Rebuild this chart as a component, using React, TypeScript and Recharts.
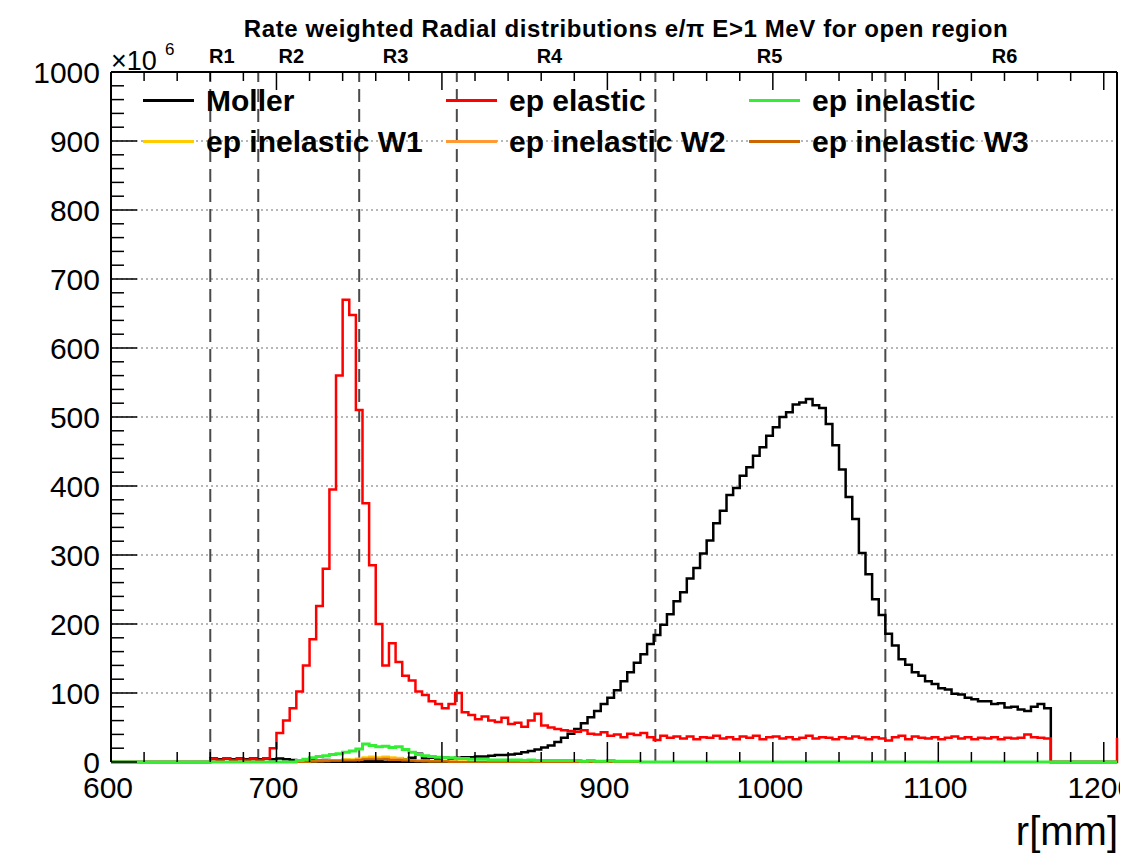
import React from "react";
import { LineChart, Line, XAxis, YAxis, ReferenceLine, ReferenceDot, Legend } from "recharts";

const FONT = "'Liberation Sans', Arial, Helvetica, sans-serif";

// ---- histogram binning (bin low edges in mm) ----
const BIN_START = 600;
const BIN_WIDTH = 4;
const BIN_COUNT = 153; // 600 ... 1208

// ---- axes ----
const X_DOMAIN: [number, number] = [600, 1208];
const Y_DOMAIN: [number, number] = [0, 1000];
const X_LABELS = [600, 700, 800, 900, 1000, 1100, 1200];
const Y_LABELS = [0, 100, 200, 300, 400, 500, 600, 700, 800, 900, 1000];
const GRID_Y = [100, 200, 300, 400, 500, 600, 700, 800, 900];
const MINOR_STEP_X = 20;
const MINOR_STEP_Y = 20;

// ---- ring boundaries and ring names ----
const RING_EDGES = [660, 689, 750, 809, 929, 1068];
const RING_NAMES = ["R1", "R2", "R3", "R4", "R5", "R6"];
const RING_LABEL_R = [667, 709, 772, 865, 998, 1140];

// ---- series values (x10^6), each list starts at its own first bin ----
const MOLLER_START = 660;
const MOLLER = [
  5, 4, 5, 4, 5,
  4, 5, 4, 5, 4, 5, 4, 3, 2, 2,
  2, 2, 3, 2, 2, 3, 2, 3, 2, 3,
  3, 4, 3, 5, 4, 6, 12, 5, 6, 5,
  6, 5, 6, 7, 7, 8, 8, 9, 10, 10,
  11, 12, 14, 16, 18, 21, 24, 29, 35, 41,
  48, 56, 65, 74, 84, 93, 104, 117, 130, 144,
  156, 171, 184, 199, 214, 233, 246, 266, 281, 302,
  321, 346, 364, 387, 397, 415, 427, 444, 456, 473,
  485, 500, 507, 518, 521, 526, 517, 513, 490, 459,
  424, 384, 352, 303, 272, 236, 213, 186, 169, 149,
  141, 130, 125, 117, 113, 107, 105, 99, 98, 93,
  91, 88, 88, 84, 85, 79, 80, 76, 74, 80,
  84, 78, 0,
];

const ELASTIC_START = 660;
const ELASTIC = [
  4, 3, 5, 3, 4,
  3, 4, 3, 5, 20, 42, 60, 78, 102, 140,
  178, 226, 280, 395, 560, 670, 648, 510, 375, 285,
  200, 140, 172, 145, 125, 118, 102, 97, 88, 84,
  78, 84, 100, 72, 68, 62, 66, 60, 58, 64,
  55, 57, 51, 60, 70, 53, 50, 48, 46, 45,
  44, 46, 41, 40, 43, 38, 40, 36, 41, 39,
  42, 36, 32, 38, 35, 37, 34, 37, 33, 36,
  35, 38, 34, 36, 33, 37, 35, 38, 33, 36,
  37, 34, 36, 33, 35, 38, 34, 36, 35, 33,
  36, 34, 37, 35, 33, 36, 34, 31, 36, 38,
  33, 37, 35, 34, 36, 33, 35, 37, 34, 36,
  33, 35, 34, 36, 33, 35, 34, 35, 40, 36,
  35, 34, 0, 0, 0, 0, 0, 0, 0, 0,
  0, 0, 35,
];

const INEL_START = 712;
const INEL = [
  2, 4,
  6, 8, 9, 11, 12, 14, 16, 19, 26, 24,
  22, 23, 21, 22, 18, 14, 11, 9, 8, 7,
  6, 6, 5, 5, 4, 4, 4, 3, 3, 3,
  3, 3, 2, 3, 2, 2, 2, 2, 2, 2,
  2, 1, 2, 1, 1, 2, 1, 1, 1, 1,
];

const W1_START = 716;
const W1 = [
  1,
  1, 2, 2, 3, 3, 4, 4, 5, 7, 8,
  7, 8, 7, 6, 4, 3, 2, 2, 1, 1,
  1, 1, 1, 1,
];

const W2_START = 720;
const W2 = [
  1, 1, 2, 2, 2, 3, 3, 4, 5, 6,
  5, 6, 5, 4, 3, 2, 2, 1, 1, 1,
  1, 1,
];

const W3_START = 720;
const W3 = [
  1, 1, 1, 2, 2, 2, 2, 3, 4, 4,
  4, 4, 3, 3, 2, 2, 1, 1, 1, 1,
  1,
];

const SERIES = [
  { key: "moller", name: "Moller", color: "#000000", width: 2.5, values: MOLLER, start: MOLLER_START },
  { key: "elastic", name: "ep elastic", color: "#ff0000", width: 2.5, values: ELASTIC, start: ELASTIC_START },
  { key: "inel", name: "ep inelastic", color: "#33ee33", width: 3, values: INEL, start: INEL_START },
  { key: "w1", name: "ep inelastic W1", color: "#ffcc00", width: 2, values: W1, start: W1_START },
  { key: "w2", name: "ep inelastic W2", color: "#ff9933", width: 2, values: W2, start: W2_START },
  { key: "w3", name: "ep inelastic W3", color: "#cc6600", width: 2, values: W3, start: W3_START },
];
const DRAW_ORDER = ["moller", "elastic", "w1", "w2", "w3", "inel"];

function valueAt(values: number[], start: number, r: number): number {
  const i = Math.round((r - start) / BIN_WIDTH);
  return i >= 0 && i < values.length ? values[i] : 0;
}

const TABLE = Array.from({ length: BIN_COUNT }, (_, i) => {
  const r = BIN_START + i * BIN_WIDTH;
  const row: Record<string, number> = { r };
  SERIES.forEach((s) => {
    row[s.key] = valueAt(s.values, s.start, r);
  });
  return row;
});

const X_TICKS: number[] = [];
for (let v = X_LABELS[0]; v <= X_LABELS[X_LABELS.length - 1]; v += MINOR_STEP_X) X_TICKS.push(v);
const Y_TICKS: number[] = [];
for (let v = Y_DOMAIN[0]; v <= Y_DOMAIN[1]; v += MINOR_STEP_Y) Y_TICKS.push(v);

const W = 1120;
const H = 850;
// plot area: left 103, top 64, right 1109, bottom 754 (chart coords)
const AXIS_LEFT_W = 103;
const AXIS_RIGHT_W = 11;
const AXIS_TOP_H = 64;
const AXIS_BOTTOM_H = 96;

const makeYTick = (side: "left" | "right") => (props: any) => {
  const { x, y, payload } = props;
  const v = payload.value as number;
  const major = Y_LABELS.includes(v);
  const len = major ? 26 : 13;
  const x2 = side === "left" ? x + len : x - len;
  return (
    <g>
      <line x1={x} x2={x2} y1={y} y2={y} stroke="#000" strokeWidth={1.5} />
      {side === "left" && major ? (
        <text x={x - 11} y={y} dy="0.36em" textAnchor="end" fontSize={30} fontFamily={FONT} fill="#000">
          {v}
        </text>
      ) : null}
    </g>
  );
};

const makeXTick = (side: "bottom" | "top") => (props: any) => {
  const { x, y, payload } = props;
  const v = payload.value as number;
  const major = X_LABELS.includes(v);
  const len = side === "bottom" ? (major ? 20 : 10) : major ? 18 : 9;
  const y2 = side === "bottom" ? y - len : y + len;
  return (
    <g>
      <line x1={x} x2={x} y1={y} y2={y2} stroke="#000" strokeWidth={1.5} />
      {side === "bottom" && major ? (
        <text x={x - 3} y={y + 25} dy="0.36em" textAnchor="middle" fontSize={30} fontFamily={FONT} fill="#000">
          {v}
        </text>
      ) : null}
    </g>
  );
};

const renderLegend = () => (
  <div style={{ display: "grid", gridTemplateColumns: "303px 303px 303px", fontFamily: FONT }}>
    {SERIES.map((s) => (
      <div key={s.key} style={{ display: "flex", alignItems: "center", height: 41 }}>
        <span
          style={{
            display: "inline-block",
            width: 51,
            height: 0,
            borderTop: `3px solid ${s.color}`,
            marginRight: 12,
          }}
        />
        <span style={{ fontSize: 30, fontWeight: "bold", lineHeight: "41px", whiteSpace: "nowrap", color: "#000" }}>
          {s.name}
        </span>
      </div>
    ))}
  </div>
);

const ringLabel = (name: string) => (props: any) => {
  const vb = props.viewBox || {};
  const cx = (vb.x ?? 0) + (vb.width ?? 0) / 2;
  const cy = vb.y ?? 0;
  return (
    <text x={cx} y={cy - 8} textAnchor="middle" fontSize={20} fontWeight="bold" fontFamily={FONT} fill="#000">
      {name}
    </text>
  );
};

export default function App() {
  return (
    <div style={{ position: "relative", width: W, height: H, fontFamily: FONT, background: "#fff" }}>
      <LineChart width={W} height={H} data={TABLE} margin={{ top: 0, right: 0, bottom: 0, left: 0 }}>
        <XAxis
          dataKey="r"
          type="number"
          domain={X_DOMAIN}
          ticks={X_TICKS}
          interval={0}
          height={AXIS_BOTTOM_H}
          tickSize={0}
          tickMargin={0}
          tickLine={false}
          axisLine={false}
          tick={makeXTick("bottom")}
        />
        <XAxis
          xAxisId="top"
          orientation="top"
          dataKey="r"
          type="number"
          domain={X_DOMAIN}
          ticks={X_TICKS}
          interval={0}
          height={AXIS_TOP_H}
          tickSize={0}
          tickMargin={0}
          tickLine={false}
          axisLine={{ stroke: "#000", strokeWidth: 2 }}
          tick={makeXTick("top")}
        />
        <YAxis
          type="number"
          domain={Y_DOMAIN}
          ticks={Y_TICKS}
          interval={0}
          width={AXIS_LEFT_W}
          tickSize={0}
          tickMargin={0}
          tickLine={false}
          axisLine={{ stroke: "#000", strokeWidth: 2 }}
          tick={makeYTick("left")}
        />
        <YAxis
          yAxisId="right"
          orientation="right"
          type="number"
          domain={Y_DOMAIN}
          ticks={Y_TICKS}
          interval={0}
          width={AXIS_RIGHT_W}
          tickSize={0}
          tickMargin={0}
          tickLine={false}
          axisLine={false}
          tick={makeYTick("right")}
        />
        {GRID_Y.map((v) => (
          <ReferenceLine key={`g${v}`} y={v} stroke="#a0a0a0" strokeDasharray="2 3" strokeWidth={1.5} />
        ))}
        <ReferenceLine y={Y_DOMAIN[0]} stroke="#000" strokeWidth={2} />
        <ReferenceLine x={X_DOMAIN[1]} stroke="#000" strokeWidth={2} />
        {RING_EDGES.map((v) => (
          <ReferenceLine key={`e${v}`} x={v} stroke="#4a4a4a" strokeDasharray="13 7" strokeWidth={2} />
        ))}
        {DRAW_ORDER.map((k) => {
          const s = SERIES.find((q) => q.key === k)!;
          return (
            <Line
              key={s.key}
              dataKey={s.key}
              name={s.name}
              type="stepAfter"
              stroke={s.color}
              strokeWidth={s.width}
              dot={false}
              activeDot={false}
              isAnimationActive={false}
            />
          );
        })}
        {RING_NAMES.map((n, i) => (
          <ReferenceDot
            key={n}
            x={RING_LABEL_R[i]}
            y={Y_DOMAIN[1]}
            r={1}
            fill="none"
            stroke="none"
            label={{ content: ringLabel(n) }}
          />
        ))}
        <Legend
          layout="horizontal"
          verticalAlign="middle"
          align="center"
          width={920}
          content={renderLegend}
          wrapperStyle={{ top: 72, left: 135, width: 920, height: 82, margin: 0 }}
        />
      </LineChart>
      <svg
        width={W}
        height={H}
        style={{ position: "absolute", left: 0, top: 0, pointerEvents: "none", overflow: "visible" }}
      >
        <text x={618} y={29} textAnchor="middle" fontSize={24} fontWeight="bold" letterSpacing={0.6} fontFamily={FONT} fill="#000">
          Rate weighted Radial distributions e/π E&gt;1 MeV for open region
        </text>
        <text x={103} y={62} fontSize={27} fontFamily={FONT} fill="#000">
          ×10
        </text>
        <text x={157} y={47} fontSize={17} fontFamily={FONT} fill="#000">
          6
        </text>
        <text x={1110} y={837} textAnchor="end" fontSize={40} fontFamily={FONT} fill="#000">
          r[mm]
        </text>
      </svg>
    </div>
  );
}
